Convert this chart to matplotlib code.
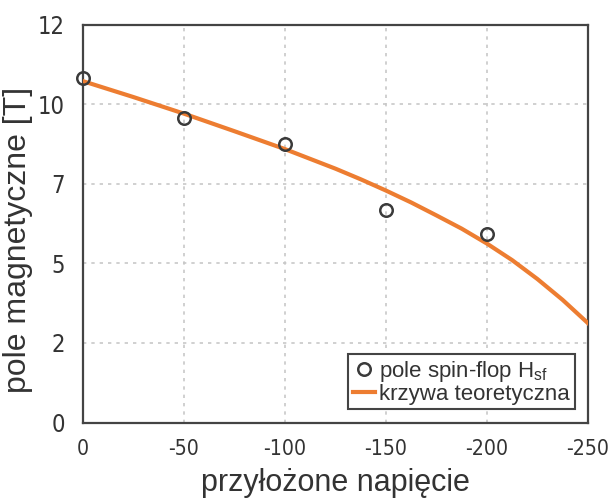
import matplotlib
matplotlib.use("Agg")
import matplotlib.pyplot as plt
from matplotlib.ticker import FixedLocator, FixedFormatter

plt.rcParams['font.family'] = ['Liberation Sans', 'DejaVu Sans']
plt.rcParams['mathtext.fontset'] = 'custom'
plt.rcParams['mathtext.rm'] = 'Liberation Sans'
plt.rcParams['mathtext.it'] = 'Liberation Sans'

# measured spin-flop field
meas_v = [0, -50, -100, -150, -200]
meas_h = [10.40, 9.18, 8.40, 6.41, 5.70]

# theoretical curve
curve_v = [0, -25, -50, -75, -100, -125, -137.5, -150, -162.5, -175, -187.5,
           -200, -212.5, -225, -237.5, -250]
curve_h = [10.30, 9.82, 9.32, 8.79, 8.25, 7.66, 7.34, 7.00, 6.64, 6.25, 5.85,
           5.40, 4.90, 4.33, 3.70, 3.00]

xticks = [0, -50, -100, -150, -200, -250]
xtick_labels = ['0', '-50', '-100', '-150', '-200', '-250']
yticks = [0, 2.4, 4.8, 7.2, 9.6, 12]
ytick_labels = ['0', '2', '5', '7', '10', '12']

fig = plt.figure(figsize=(6.09, 5.04), dpi=100)
ax = fig.add_axes([0.1363, 0.1617, 0.829, 0.789])

ax.plot(curve_v, curve_h, color='#ED7D31', lw=3.0, label='krzywa teoretyczna', zorder=3)
ax.plot(meas_v, meas_h, linestyle='none', marker='o', markersize=9, markerfacecolor='none',
        markeredgecolor='#3a3a3a', markeredgewidth=1.8, label='pole spin-flop H$_{\\mathrm{sf}}$',
        zorder=4, clip_on=False)

ax.set_xlim(0, -250)
ax.set_ylim(0, 12)
ax.xaxis.set_major_locator(FixedLocator(xticks))
ax.xaxis.set_major_formatter(FixedFormatter(xtick_labels))
ax.yaxis.set_major_locator(FixedLocator(yticks))
ax.yaxis.set_major_formatter(FixedFormatter(ytick_labels))

for lab in ax.get_xticklabels():
    lab.set_family('DejaVu Sans')
    lab.set_stretch('condensed')
    lab.set_fontsize(15.3)
    lab.set_color('#333333')
for lab in ax.get_yticklabels():
    lab.set_family('DejaVu Sans')
    lab.set_stretch('condensed')
    lab.set_fontsize(17)
    lab.set_color('#333333')

ax.tick_params(axis='both', length=0)
ax.tick_params(axis='x', pad=12)
ax.tick_params(axis='y', pad=13)

ax.grid(True, color='#c8c8c8', linestyle=(0, (2, 3)), linewidth=1.2)
ax.set_axisbelow(True)
for s in ax.spines.values():
    s.set_color('#444444')
    s.set_linewidth(1.6)

ax.set_xlabel('przyłożone napięcie', fontsize=22, color='#333333', labelpad=6)
ax.set_ylabel('pole magnetyczne [T]', fontsize=23, color='#333333', labelpad=4)
ax.yaxis.set_label_coords(-0.10, 0.46)

h, l = ax.get_legend_handles_labels()
leg = ax.legend([h[1], h[0]], [l[1], l[0]], loc='lower right', fontsize=16,
                frameon=True, fancybox=False, edgecolor='#444444', framealpha=1,
                handlelength=1.0, handletextpad=0.2, labelspacing=0.0,
                borderpad=0.2, borderaxespad=0.6)
leg.get_frame().set_linewidth(1.5)
for t in leg.get_texts():
    t.set_color('#333333')

fig.savefig('out.png', dpi=100)
